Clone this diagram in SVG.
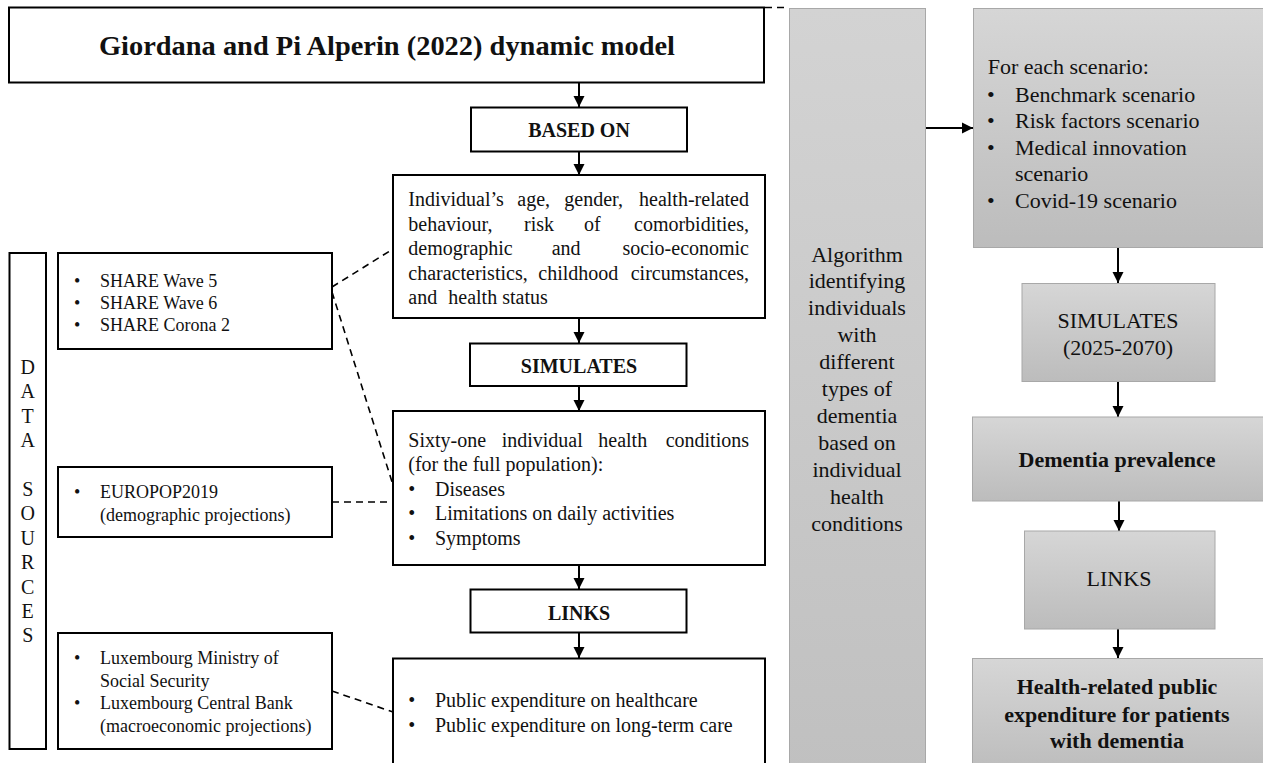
<svg xmlns="http://www.w3.org/2000/svg" width="1263" height="763" viewBox="0 0 1263 763">
<defs>
<linearGradient id="g" x1="0" y1="0" x2="0" y2="1"><stop offset="0" stop-color="#d6d6d6"/><stop offset="1" stop-color="#bcbcbc"/></linearGradient>
<linearGradient id="gc" x1="0" y1="0" x2="0" y2="1"><stop offset="0" stop-color="#d3d3d3"/><stop offset="1" stop-color="#c0c0c0"/></linearGradient>
<marker id="ah" markerUnits="userSpaceOnUse" markerWidth="12" markerHeight="12" refX="11" refY="6" orient="auto"><path d="M0,0.5 L11,6 L0,11.5 z" fill="#000"/></marker>
<style>
.b{fill:#fff;stroke:#000;stroke-width:2}
.gr{fill:url(#g);stroke:#a8a8a8;stroke-width:1}
.t{font-family:"Liberation Serif","Times New Roman",serif;fill:#111}
.s20{font-size:20px}.s18{font-size:18px}.s22{font-size:22px}
.bd{font-weight:bold}
.m{text-anchor:middle}
.e{text-anchor:end}
.a{stroke:#000;stroke-width:2;fill:none;marker-end:url(#ah)}
.d{stroke:#000;stroke-width:1.6;fill:none;stroke-dasharray:7,5}
</style>
</defs>
<rect width="1263" height="763" fill="#fff"/>

<g id="connectors">
<path class="a" d="M579,83 V107"/>
<path class="a" d="M579,152 V175"/>
<path class="a" d="M579,318 V343"/>
<path class="a" d="M579,386 V411"/>
<path class="a" d="M579,565 V589"/>
<path class="a" d="M579,633 V658"/>
<path class="a" d="M925,128 H973"/>
<path class="a" d="M1118,247 V283"/>
<path class="a" d="M1118,382 V417"/>
<path class="a" d="M1119,501 V531"/>
<path class="a" d="M1118,629 V658"/>
<path class="d" d="M332,287 L393,249"/>
<path class="d" d="M332,292 L393,485"/>
<path class="d" d="M332,502 L393,502"/>
<path class="d" d="M332,691 L393,712"/>
<path class="d" d="M765,7.5 H788"/>
</g>

<g id="title">
<rect class="b" x="9" y="7.5" width="755" height="75"/>
<text class="t bd m" x="387" y="55" font-size="28" textLength="576" lengthAdjust="spacingAndGlyphs">Giordana and Pi Alperin (2022) dynamic model</text>
</g>

<g id="based-on">
<rect class="b" x="471" y="107.5" width="216" height="44"/>
<text class="t s20 bd m" x="579" y="137">BASED ON</text>
</g>

<g id="characteristics">
<rect class="b" x="393" y="175" width="372" height="143"/>
<text class="t s20"><tspan x="408.3" y="206">Individual’s</tspan><tspan x="517.3" y="206">age,</tspan><tspan x="564.3" y="206">gender,</tspan><tspan x="749" y="206" text-anchor="end">health-related</tspan></text>
<text class="t s20"><tspan x="408.3" y="230.5">behaviour,</tspan><tspan x="524" y="230.5">risk</tspan><tspan x="584" y="230.5">of</tspan><tspan x="749" y="230.5" text-anchor="end">comorbidities,</tspan></text>
<text class="t s20"><tspan x="408.3" y="255">demographic</tspan><tspan x="551.7" y="255">and</tspan><tspan x="749" y="255" text-anchor="end">socio-economic</tspan></text>
<text class="t s20"><tspan x="408.3" y="279.5">characteristics,</tspan><tspan x="538.3" y="279.5">childhood</tspan><tspan x="749" y="279.5" text-anchor="end">circumstances,</tspan></text>
<text class="t s20"><tspan x="408.3" y="304">and</tspan><tspan x="448.3" y="304">health status</tspan></text>
</g>

<g id="simulates">
<rect class="b" x="470" y="343.5" width="216.5" height="42.5"/>
<text class="t s20 bd m" x="579" y="373">SIMULATES</text>
</g>

<g id="health-conditions">
<rect class="b" x="393" y="411" width="372" height="154"/>
<text class="t s20"><tspan x="408.3" y="446.5">Sixty-one</tspan><tspan x="501.7" y="446.5">individual</tspan><tspan x="598.3" y="446.5">health</tspan><tspan x="749" y="446.5" text-anchor="end">conditions</tspan></text>
<text class="t s20" x="408.3" y="471">(for the full population):</text>
<text class="t s20"><tspan x="408.3" y="495.5">•</tspan><tspan x="435" y="495.5">Diseases</tspan></text>
<text class="t s20"><tspan x="408.3" y="520">•</tspan><tspan x="435" y="520">Limitations on daily activities</tspan></text>
<text class="t s20"><tspan x="408.3" y="544.5">•</tspan><tspan x="435" y="544.5">Symptoms</tspan></text>
</g>

<g id="links">
<rect class="b" x="470.5" y="589.5" width="216" height="43"/>
<text class="t s20 bd m" x="579" y="620">LINKS</text>
</g>

<g id="expenditure">
<rect class="b" x="393" y="658.5" width="372" height="115"/>
<text class="t s20"><tspan x="408.3" y="706.5">•</tspan><tspan x="435" y="706.5">Public expenditure on healthcare</tspan></text>
<text class="t s20"><tspan x="408.3" y="731.5">•</tspan><tspan x="435" y="731.5">Public expenditure on long-term care</tspan></text>
</g>

<g id="data-sources">
<rect class="b" x="9.5" y="253" width="36.5" height="496"/>
<text class="t s20 m"><tspan x="27.7" y="374">D</tspan><tspan x="27.7" y="398.4">A</tspan><tspan x="27.7" y="422.8">T</tspan><tspan x="27.7" y="447.2">A</tspan><tspan x="27.7" y="496">S</tspan><tspan x="27.7" y="520.4">O</tspan><tspan x="27.7" y="544.8">U</tspan><tspan x="27.7" y="569.2">R</tspan><tspan x="27.7" y="593.6">C</tspan><tspan x="27.7" y="618">E</tspan><tspan x="27.7" y="642.4">S</tspan></text>
</g>

<g id="share">
<rect class="b" x="58" y="253" width="274" height="96"/>
<text class="t s18"><tspan x="74" y="286.5">•</tspan><tspan x="100" y="286.5">SHARE Wave 5</tspan></text>
<text class="t s18"><tspan x="74" y="309">•</tspan><tspan x="100" y="309">SHARE Wave 6</tspan></text>
<text class="t s18"><tspan x="74" y="331">•</tspan><tspan x="100" y="331">SHARE Corona 2</tspan></text>
</g>

<g id="europop">
<rect class="b" x="58" y="467" width="274" height="70"/>
<text class="t s18"><tspan x="74" y="498">•</tspan><tspan x="100" y="498">EUROPOP2019</tspan></text>
<text class="t s18" x="100" y="521">(demographic projections)</text>
</g>

<g id="luxembourg">
<rect class="b" x="58" y="633" width="274" height="116"/>
<text class="t s18"><tspan x="74" y="664">•</tspan><tspan x="100" y="664">Luxembourg Ministry of</tspan></text>
<text class="t s18" x="100" y="687">Social Security</text>
<text class="t s18"><tspan x="74" y="709">•</tspan><tspan x="100" y="709">Luxembourg Central Bank</tspan></text>
<text class="t s18" x="100" y="732">(macroeconomic projections)</text>
</g>

<g id="algorithm">
<rect x="789.5" y="8.5" width="136" height="765" fill="url(#gc)" stroke="#a8a8a8" stroke-width="1"/>
<text class="t s22 m"><tspan x="857" y="261.5">Algorithm</tspan><tspan x="857" y="288.4">identifying</tspan><tspan x="857" y="315.3">individuals</tspan><tspan x="857" y="342.2">with</tspan><tspan x="857" y="369.1">different</tspan><tspan x="857" y="396">types of</tspan><tspan x="857" y="422.9">dementia</tspan><tspan x="857" y="449.8">based on</tspan><tspan x="857" y="476.7">individual</tspan><tspan x="857" y="503.6">health</tspan><tspan x="857" y="530.5">conditions</tspan></text>
</g>

<g id="scenarios">
<rect class="gr" x="973.5" y="8.5" width="295" height="239"/>
<text class="t s22" x="987.7" y="74">For each scenario:</text>
<text class="t s22"><tspan x="987" y="101.5">•</tspan><tspan x="1015" y="101.5">Benchmark scenario</tspan></text>
<text class="t s22"><tspan x="987" y="128">•</tspan><tspan x="1015" y="128">Risk factors scenario</tspan></text>
<text class="t s22"><tspan x="987" y="154.5">•</tspan><tspan x="1015" y="154.5">Medical innovation</tspan></text>
<text class="t s22" x="1015" y="181">scenario</text>
<text class="t s22"><tspan x="987" y="208">•</tspan><tspan x="1015" y="208">Covid-19 scenario</tspan></text>
</g>

<g id="simulates-years">
<rect class="gr" x="1022" y="283.5" width="193" height="98"/>
<text class="t s22 m"><tspan x="1118" y="327.5">SIMULATES</tspan><tspan x="1118" y="355">(2025-2070)</tspan></text>
</g>

<g id="dementia-prevalence">
<rect class="gr" x="972.5" y="417" width="295" height="84"/>
<text class="t s22 bd m" x="1117" y="467">Dementia prevalence</text>
</g>

<g id="links-right">
<rect class="gr" x="1024.5" y="531" width="190.5" height="98"/>
<text class="t s22 m" x="1119" y="586">LINKS</text>
</g>

<g id="public-expenditure">
<rect class="gr" x="972.5" y="658.5" width="295" height="115"/>
<text class="t s22 bd m"><tspan x="1117" y="694">Health-related public</tspan><tspan x="1117" y="722">expenditure for patients</tspan><tspan x="1117" y="748">with dementia</tspan></text>
</g>
</svg>
